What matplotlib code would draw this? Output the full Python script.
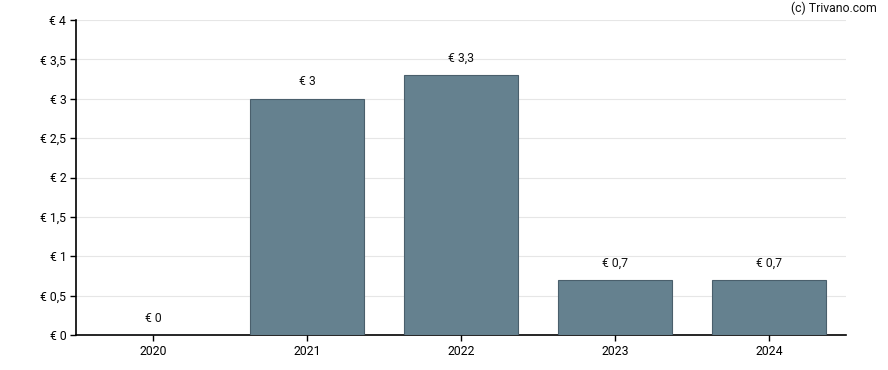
import matplotlib
matplotlib.use("Agg")
import matplotlib.pyplot as plt

years = ["2020", "2021", "2022", "2023", "2024"]
values = [0, 3, 3.3, 0.7, 0.7]
labels = ["€ 0", "€ 3", "€ 3,3", "€ 0,7", "€ 0,7"]
yticks = [0, 0.5, 1, 1.5, 2, 2.5, 3, 3.5, 4]
ytick_labels = ["€ 0", "€ 0,5", "€ 1", "€ 1,5", "€ 2", "€ 2,5", "€ 3", "€ 3,5", "€ 4"]

plt.rcParams['font.family'] = ['Roboto', 'DejaVu Sans']

fig = plt.figure(figsize=(8.88, 3.70), dpi=100)
ax = fig.add_axes([76/888, 35/370, 770/888, 315/370])

x = list(range(len(years)))
ax.bar(x, values, width=0.74, color="#65818f", edgecolor="#4a5f6c", linewidth=0.8, zorder=3)
for xi, v, lab in zip(x, values, labels):
    ax.annotate(lab, (xi, v), xytext=(0, 7.5), textcoords="offset points",
                ha="center", va="bottom", fontsize=8.8, color="#111111")

ax.set_xlim(-0.5, 4.5)
ax.set_ylim(0, 4)
ax.set_xticks(x)
ax.set_xticklabels(years)
ax.set_yticks(yticks)
ax.set_yticklabels(ytick_labels)
ax.tick_params(axis="both", labelsize=8.8, length=4, width=1, colors="#000000", pad=3)
ax.yaxis.grid(True, color="#e6e6e6", linewidth=0.8, zorder=0)
ax.set_axisbelow(True)
for s in ["top", "right"]:
    ax.spines[s].set_visible(False)
for s in ["left", "bottom"]:
    ax.spines[s].set_linewidth(1.2)
    ax.spines[s].set_color("#000000")

fig.text(877/888, 1 - 8/370, "(c) Trivano.com", ha="right", va="center", fontsize=8.8, color="#111111")

fig.savefig("out.png", dpi=100)
